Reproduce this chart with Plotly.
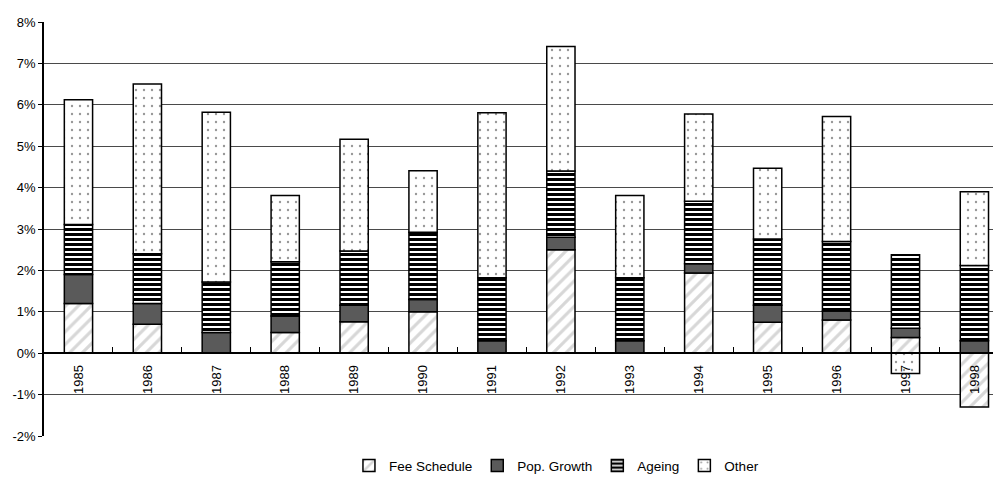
import plotly.graph_objects as go

# Contributions to growth, in percent
years = ['1985', '1986', '1987', '1988', '1989', '1990', '1991',
         '1992', '1993', '1994', '1995', '1996', '1997', '1998']
fee_schedule = [1.2, 0.7, 0.0, 0.5, 0.76, 1.0, 0.0, 2.5, 0.0, 1.94, 0.75, 0.8, 0.38, -1.3]
pop_growth = [0.7, 0.5, 0.5, 0.4, 0.4, 0.3, 0.3, 0.3, 0.3, 0.22, 0.41, 0.22, 0.22, 0.3]
ageing = [1.21, 1.2, 1.22, 1.31, 1.31, 1.62, 1.52, 1.6, 1.52, 1.51, 1.6, 1.68, 1.78, 1.82]
other = [3.01, 4.1, 4.1, 1.6, 2.7, 1.49, 3.99, 3.01, 1.99, 2.11, 1.71, 3.02, -0.49, 1.78]

y_ticks = [-2, -1, 0, 1, 2, 3, 4, 5, 6, 7, 8]
y_tick_labels = ['-2%', '-1%', '0%', '1%', '2%', '3%', '4%', '5%', '6%', '7%', '8%']

outline = dict(color='black', width=1.5)

fig = go.Figure()
fig.add_trace(go.Bar(x=years, y=fee_schedule, name='Fee Schedule',
                     marker=dict(color='white', line=outline,
                                 pattern=dict(shape='/', fgcolor='#b0b0b0', bgcolor='white',
                                              size=9, solidity=0.35))))
fig.add_trace(go.Bar(x=years, y=pop_growth, name='Pop. Growth',
                     marker=dict(color='#5a5a5a', line=outline)))
fig.add_trace(go.Bar(x=years, y=ageing, name='Ageing',
                     marker=dict(color='white', line=outline,
                                 pattern=dict(shape='-', fgcolor='black', bgcolor='white',
                                              size=5, fillmode='replace', solidity=0.6))))
fig.add_trace(go.Bar(x=years, y=other, name='Other',
                     marker=dict(color='white', line=outline,
                                 pattern=dict(shape='.', fgcolor='#303030', bgcolor='white',
                                              size=8, solidity=0.07))))

fig.update_layout(
    barmode='relative',
    bargap=0.59,
    width=993, height=477,
    margin=dict(l=44, r=0, t=22, b=41, autoexpand=False),
    paper_bgcolor='white', plot_bgcolor='white',
    font=dict(family='Liberation Sans, Arial, sans-serif', size=12, color='black'),
    legend=dict(orientation='h', x=0.54, xanchor='center', y=-0.072, yanchor='middle',
                font=dict(size=13.5), itemwidth=30, traceorder='normal'),
    showlegend=True,
)
fig.update_xaxes(
    type='category', range=[-0.5, 13.27], automargin=False,
    anchor='free', position=0.2,
    showline=True, linecolor='black', linewidth=1.5,
    tickson='boundaries', ticks='inside', ticklen=5, tickcolor='black',
    tickangle=-90, ticklabelstandoff=6, tickfont=dict(size=13),
    showgrid=False,
)
fig.update_yaxes(
    range=[-2, 8], tickvals=y_ticks, ticktext=y_tick_labels, automargin=False,
    showline=True, linecolor='black', linewidth=1.5,
    ticks='outside', ticklen=4, tickcolor='black',
    showgrid=True, gridcolor='#4a4a4a', gridwidth=1,
    zeroline=False, tickfont=dict(size=13),
)

# the page body has a default 8px margin; drop it so the figure fills the window
fig.write_html("out.html", config={'displayModeBar': False},
               post_script="document.body.style.margin='0';")
